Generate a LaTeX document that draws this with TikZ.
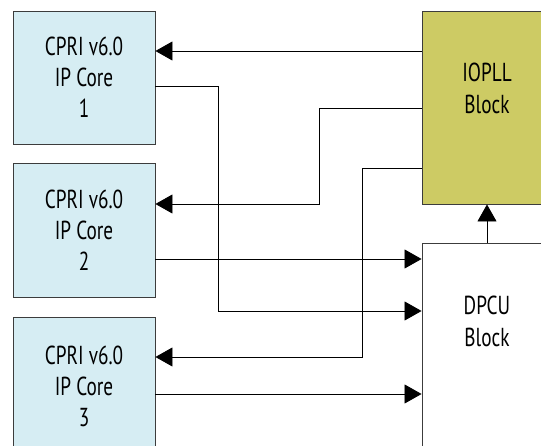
\documentclass[tikz,border=0pt]{standalone}
\usepackage{fontspec}
\setmainfont[FakeStretch=0.74]{PT Sans}
\usetikzlibrary{arrows.meta}
\definecolor{cpriblue}{RGB}{214,237,243}
\definecolor{ioolive}{RGB}{205,203,100}
\definecolor{boxline}{RGB}{60,60,60}
\tikzset{
  blk/.style={draw=boxline, line width=0.9pt, rectangle, inner sep=0pt},
  cpri/.style={blk, fill=cpriblue, minimum width=142pt, align=center, font=\fontsize{26}{31}\selectfont},
  lbl/.style={align=center, font=\fontsize{26}{32}\selectfont, inner sep=0pt},
  wire/.style={line width=0.8pt, draw=black},
  arr/.style={wire, -{Triangle[length=17pt,width=19pt]}}
}
\begin{document}
\begin{tikzpicture}[x=1pt,y=1pt]
\useasboundingbox (0,0) rectangle (541,-446);
\clip (0,0) rectangle (541,-446);
% boxes
\node[cpri, minimum height=133pt] (b1) at (84,-77.5) {CPRI v6.0\\IP Core\\1};
\node[cpri, minimum height=134pt] (b2) at (84,-230) {CPRI v6.0\\IP Core\\2};
\node[cpri, minimum height=138pt] (b3) at (84,-386) {CPRI v6.0\\IP Core\\3};
\node[blk, fill=ioolive, minimum width=130pt, minimum height=193pt] (io) at (487,-107.5) {};
\node[lbl] (iot) at (487,-88) {IOPLL\\Block};
\node[blk, fill=white, minimum width=130pt, minimum height=217pt] (dp) at (487,-351.5) {};
\node[lbl] (dpt) at (487,-321) {DPCU\\Block};
% named bends
\coordinate (k1) at (319,-108);
\coordinate (k2) at (319,-204);
\coordinate (k3) at (362,-168);
\coordinate (k4) at (362,-357);
\coordinate (k5) at (218,-86);
\coordinate (k6) at (218,-311);
% IOPLL -> cores
\draw[arr] (io.west |- 0,-51) -- (b1.east |- 0,-51);
\draw[arr] (io.west |- k1) -- (k1) -- (k2) -- (b2.east |- k2);
\draw[arr] (io.west |- k3) -- (k3) -- (k4) -- (b3.east |- k4);
% cores -> DPCU
\draw[arr] (b1.east |- k5) -- (k5) -- (k6) -- (dp.west |- k6);
\draw[arr] (b2.east |- 0,-259) -- (dp.west |- 0,-259);
\draw[arr] (b3.east |- 0,-394) -- (dp.west |- 0,-394);
% DPCU -> IOPLL
\draw[arr] (dp.north) -- (io.south);
\end{tikzpicture}
\end{document}
